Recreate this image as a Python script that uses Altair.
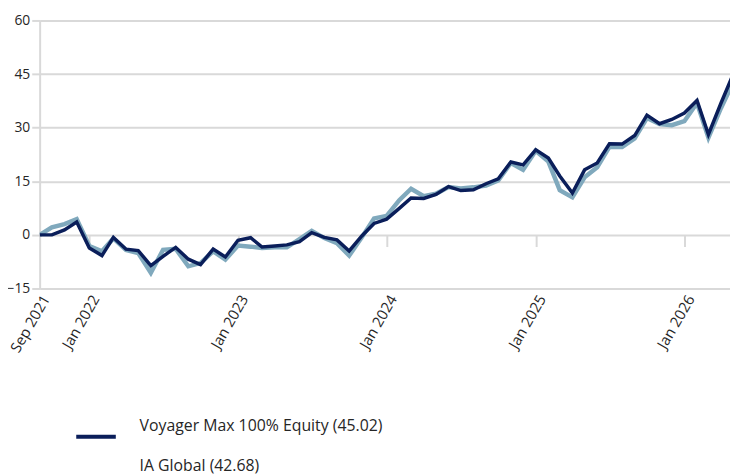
import altair as alt
import pandas as pd

# Month-start dates, Sep 2021 .. May 2026
dates = pd.date_range("2021-09-01", "2026-05-01", freq="MS").strftime("%Y-%m-%d").tolist()

voyager = [0.0, 0.0, 1.4, 3.6, -3.7, -5.8, -0.7, -4.0, -4.4, -8.6, -6.0, -3.5, -6.8, -8.3, -4.0, -6.2,
           -1.5, -0.8, -3.4, -3.1, -2.8, -1.9, 0.6, -0.7, -1.4, -4.5, -0.3, 3.2, 4.4, 7.4, 10.3, 10.2,
           11.3, 13.5, 12.4, 12.6, 14.3, 15.7, 20.4, 19.6, 23.8, 21.5, 16.5, 11.7, 18.2, 20.1, 25.5, 25.4,
           27.8, 33.5, 31.1, 32.3, 34.1, 37.6, 28.1, 36.9, 45.02]
ia_global = [0.0, 2.1, 3.0, 4.4, -3.1, -4.6, -1.0, -4.2, -5.1, -10.6, -4.2, -3.9, -8.8, -7.9, -4.6, -6.9,
             -3.0, -3.3, -3.7, -3.5, -3.5, -1.2, 1.1, -0.9, -2.3, -5.8, -0.7, 4.6, 5.3, 9.7, 12.9, 10.8,
             11.5, 13.4, 13.0, 13.3, 13.8, 15.2, 20.1, 18.2, 23.5, 20.5, 12.5, 10.5, 16.1, 18.9, 24.6, 24.6,
             27.0, 32.7, 31.0, 30.7, 31.8, 36.9, 27.2, 35.5, 42.68]

name_voy = "Voyager Max 100% Equity (45.02)"
name_ia = "IA Global (42.68)"
series_names = [name_voy, name_ia]
series_colors = ["#0a1e5a", "#80a9bd"]

y_ticks = [-15, 0, 15, 30, 45, 60]
label_dates = [(2021, 9), (2022, 1), (2023, 1), (2024, 1), (2025, 1), (2026, 1)]
tick_dates = label_dates[1:]

df = pd.DataFrame(
    {"date": dates * 2,
     "value": voyager + ia_global,
     "series": [name_voy] * len(dates) + [name_ia] * len(dates)}
)

def dt(y, m, d=1):
    return alt.DateTime(year=y, month=m, date=d, utc=True)

x_scale = alt.Scale(domain=[dt(2021, 9, 1), dt(2026, 4, 23)])
y_scale = alt.Scale(domain=[-15, 60], nice=False)

grid_col = "#d9d9d9"
text_col = "#262626"

y_axis = alt.Axis(values=y_ticks, title=None, grid=True, gridColor=grid_col, gridWidth=2,
                  domain=True, domainColor=grid_col, domainWidth=2,
                  ticks=True, tickColor=grid_col, tickWidth=2, tickSize=8,
                  labelFontSize=14, labelColor=text_col, labelPadding=2)

# legend line symbol sits a little below its label, as in the original
color = alt.Color("series:N", scale=alt.Scale(domain=series_names, range=series_colors),
                  legend=alt.Legend(orient="none", legendX=35, legendY=393, title=None,
                                    symbolType="M-1,0.3H1", symbolSize=1600, symbolStrokeWidth=4,
                                    labelFontSize=16, labelOffset=22, labelBaseline="alphabetic",
                                    labelColor=text_col, labelLimit=0, padding=0, rowPadding=5,
                                    direction="vertical"))

x_labels = alt.X("date:T", timeUnit="utcyearmonthdate", scale=x_scale,
                 axis=alt.Axis(orient="bottom", values=[dt(y, m) for y, m in label_dates],
                               format="%b %Y", labelAngle=-60, labelAlign="right",
                               labelBaseline="top", labelPadding=4, labelFontSize=15,
                               labelColor=text_col, labelFlush=False, labelOverlap=False,
                               ticks=False, domain=False, grid=False, title=None))

x_ticks = alt.X("date:T", timeUnit="utcyearmonthdate", scale=x_scale,
                axis=alt.Axis(orient="bottom", offset=-54.4, values=[dt(y, m) for y, m in tick_dates],
                              labels=False, ticks=True, tickSize=12, tickWidth=2, tickColor=grid_col,
                              domain=False, grid=False, title=None))

light = alt.Chart(df).transform_filter(alt.datum.series == name_ia).mark_line(
    strokeWidth=4.5, clip=True).encode(
    x=x_labels, y=alt.Y("value:Q", scale=y_scale, axis=y_axis), color=color)

dark = alt.Chart(df).transform_filter(alt.datum.series == name_voy).mark_line(
    strokeWidth=3.5, clip=True).encode(
    x=x_ticks, y=alt.Y("value:Q", scale=y_scale, axis=y_axis), color=color)

chart = alt.layer(light, dark).resolve_axis(x="independent").properties(
    width=698, height=271,
    autosize=alt.AutoSizeParams(type="none"),
    padding={"left": 32, "top": 10, "right": 0, "bottom": 185},
).configure(font="Open Sans").configure_view(stroke=None)

chart.save("out.html", embed_options={"renderer": "svg", "actions": False})
